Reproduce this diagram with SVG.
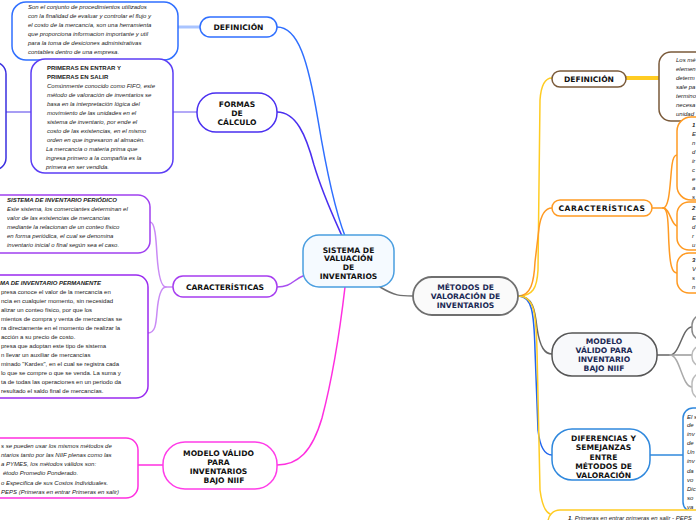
<svg xmlns="http://www.w3.org/2000/svg" width="696" height="520" viewBox="0 0 696 520">
<style>
.n{font-family:"DejaVu Sans",Verdana,sans-serif;font-weight:bold;font-size:7.6px;fill:#111;text-anchor:middle}
.nv{fill:#1c2a55}
.t{font-family:"Liberation Sans",Arial,sans-serif;font-size:6px;font-style:italic;fill:#222}
.u{font-style:normal}
.b{font-weight:bold}
.c{fill:none;stroke-width:1.5;stroke-linecap:round}
.box{fill:#fff;stroke-width:1.5}
</style>
<rect width="696" height="520" fill="#fff"/>
<g id="connectors">
  <path class="c" stroke="#2f6fff" d="M277 27 C298 27 308 60 318 120 C328 180 338 218 345 236"/>
  <path class="c" stroke="#4a2ff0" d="M277 112 C296 112 306 135 314 165 C323 195 334 218 342 236"/>
  <path class="c" stroke="#a84ff0" d="M305 275 C292 280 292 287 277 287"/>
  <path class="c" stroke="#ff2fe0" d="M345 287 C340 330 332 380 322 418 C312 452 298 465 277 465"/>
  <path class="c" stroke="#6f6f6f" d="M380 287 C395 296 400 296 413 296"/>
  <path stroke="#a9c4ff" stroke-width="3" fill="none" d="M178 27 L200 27"/>
  <path stroke="#9a8cf5" stroke-width="1.5" fill="none" d="M173 112 L197 112"/>
  <path stroke="#8a7cf0" stroke-width="1.5" fill="none" d="M6 112 L31 112"/>
  <path class="c" stroke="#c98af5" d="M173 287 L166 287 C160 287 158 270 157 255 C156 238 155 222 150 222"/>
  <path class="c" stroke="#c98af5" d="M166 287 C160 287 158 300 157 312 C156 325 155 333 148 333"/>
  <path stroke="#ff2fe0" stroke-width="1.5" fill="none" d="M138 465 L163 465"/>
  <path class="c" stroke="#ffcc22" d="M518 296 C533 296 537 288 538 270 L540 100 C541 86 545 78 552 78"/>
  <path class="c" stroke="#ff9a22" d="M518 296 C531 296 534 282 535 262 L539 228 C541 214 545 208 552 208"/>
  <path class="c" stroke="#666" d="M518 296 C533 296 535 310 537 328 C540 348 545 354 552 354"/>
  <path class="c" stroke="#2266ee" d="M518 296 C532 296 534 312 535 350 L538 430 C540 448 545 455 552 455"/>
  <path class="c" stroke="#ffcc22" d="M518 296 C534 296 536 312 537 350 L540 490 C542 505 545 512 550 514"/>
  <path stroke="#ffcc22" stroke-width="4" fill="none" d="M626 78 L660 78"/>
  <path class="c" stroke="#ff9a22" d="M652 208 L663 208 C670 208 670 180 672 165 C673 157 675 155 677 155"/>
  <path class="c" stroke="#ff9a22" d="M663 208 C670 208 671 225 677 226"/>
  <path class="c" stroke="#ff9a22" d="M663 208 C669 208 668 230 669 245 C670 265 672 273 677 273"/>
  <path class="c" stroke="#666" d="M657 355 L670 355 C680 355 682 327 692 327"/>
  <path class="c" stroke="#999" d="M670 355 L692 355"/>
  <path class="c" stroke="#aaa" d="M670 355 C680 355 682 387 692 387"/>
  <path stroke="#2f88dd" stroke-width="1.5" fill="none" d="M650 455 L683 455"/>
</g>
<g id="central">
  <rect x="303" y="235" width="91" height="52" rx="16" fill="#f5faff" stroke="#4a9ee0" stroke-width="1.5"/>
  <text class="n" x="348.5" y="252.5">SISTEMA DE</text>
  <text class="n" x="348.5" y="261.2">VALUACIÓN</text>
  <text class="n" x="348.5" y="270">DE</text>
  <text class="n" x="348.5" y="278.7">INVENTARIOS</text>
</g>
<g id="def-left">
  <rect class="box" x="200" y="17" width="77" height="20" rx="10" stroke="#2f6fff"/>
  <text class="n" x="238.5" y="30.2">DEFINICIÓN</text>
</g>
<g id="def-left-text">
  <rect class="box" x="12" y="2" width="166" height="58" rx="14" stroke="#2f6fff"/>
  <text class="t" x="28" y="9">Son el conjunto de procedimientos utilizados</text>
  <text class="t" x="28" y="18">con la finalidad de evaluar y controlar el flujo y</text>
  <text class="t" x="28" y="27">el costo de la mercancía, son una herramienta</text>
  <text class="t" x="28" y="36">que proporciona informacion importante y util</text>
  <text class="t" x="28" y="45">para la toma de desiciones administrativas</text>
  <text class="t" x="28" y="54">contables dentro de una empresa.</text>
</g>
<g id="formas">
  <rect class="box" x="197" y="93" width="80" height="39" rx="19" stroke="#4a2ff0"/>
  <text class="n" x="237" y="106.7">FORMAS</text>
  <text class="n" x="237" y="115.7">DE</text>
  <text class="n" x="237" y="124.7">CÁLCULO</text>
</g>
<g id="far-left-box">
  <rect class="box" x="-30" y="62" width="36" height="108" rx="12" stroke="#3a2fe0"/>
</g>
<g id="fifo">
  <rect class="box" x="31" y="59" width="142" height="114" rx="14" stroke="#5b3df5"/>
  <text class="t u b" x="47" y="70">PRIMERAS EN ENTRAR Y</text>
  <text class="t u b" x="47" y="79">PRIMERAS EN SALIR</text>
  <text class="t" x="47" y="88">Comúnmente conocido como FIFO, este</text>
  <text class="t" x="47" y="97">método de valoración de inventarios se</text>
  <text class="t" x="47" y="106">basa en la interpretación lógica del</text>
  <text class="t" x="47" y="115">movimiento de las unidades en el</text>
  <text class="t" x="47" y="124">sistema de inventario, por ende el</text>
  <text class="t" x="47" y="133">costo de las existencias, en el mismo</text>
  <text class="t" x="47" y="142">orden en que ingresaron al almacén.</text>
  <text class="t" x="46" y="151">La mercancía o materia prima que</text>
  <text class="t" x="46" y="160">ingresa primero a la compañía es la</text>
  <text class="t" x="46" y="169">primera en ser vendida.</text>
</g>
<g id="car-left">
  <rect class="box" x="173" y="276" width="104" height="21" rx="10" stroke="#a63df0"/>
  <text class="n" x="225" y="289.7">CARACTERÍSTICAS</text>
</g>
<g id="periodico">
  <rect class="box" x="-20" y="195" width="170" height="58" rx="12" stroke="#a040f0"/>
  <text class="t b" x="7" y="202">SISTEMA DE INVENTARIO PERIÓDICO</text>
  <text class="t" x="7" y="211">Este sistema, los comerciantes determinan el</text>
  <text class="t" x="7" y="220">valor de las existencias de mercancías</text>
  <text class="t" x="7" y="229">mediante la relacionan de un conteo físico</text>
  <text class="t" x="7" y="238">en forma periódica, el cual se denomina</text>
  <text class="t" x="7" y="247">inventario inicial o final según sea el caso.</text>
</g>
<g id="permanente">
  <rect class="box" x="-20" y="275" width="168" height="123" rx="12" stroke="#9a2af0"/>
  <text class="t b" x="0" y="285">MA DE INVENTARIO PERMANENTE</text>
  <text class="t u" x="1" y="294">presa conoce el valor de la mercancía en</text>
  <text class="t u" x="1" y="303">ncia en cualquier momento, sin necesidad</text>
  <text class="t u" x="1" y="312">alizar un conteo físico, por que los</text>
  <text class="t u" x="1" y="321">mientos de compra y venta de mercancías se</text>
  <text class="t u" x="1" y="330">ra directamente en el momento de realizar la</text>
  <text class="t u" x="1" y="339">acción a su precio de costo.</text>
  <text class="t u" x="1" y="348">presa que adoptan este tipo de sistema</text>
  <text class="t u" x="1" y="357">n llevar un auxiliar de mercancías</text>
  <text class="t u" x="1" y="366">minado "Kardex", en el cual se registra cada</text>
  <text class="t u" x="1" y="375">lo que se compre o que se venda. La suma y</text>
  <text class="t u" x="1" y="384">ta de todas las operaciones en un periodo da</text>
  <text class="t u" x="1" y="393">resultado el saldo final de mercancías.</text>
</g>
<g id="modelo-left">
  <rect class="box" x="163" y="442" width="114" height="47" rx="22" stroke="#ff3de8"/>
  <text class="n" x="218.5" y="455.7">MODELO VÁLIDO</text>
  <text class="n" x="218.5" y="464.7">PARA</text>
  <text class="n" x="218.5" y="473.7">INVENTARIOS</text>
  <text class="n" x="224" y="482.7">BAJO NIIF</text>
</g>
<g id="modelo-left-text">
  <rect class="box" x="-20" y="438" width="158" height="60" rx="12" stroke="#ff2fe0"/>
  <text class="t" x="1" y="448">s se pueden usar los mismos métodos de</text>
  <text class="t" x="1" y="457">ntarios tanto por las NIIF plenas como las</text>
  <text class="t" x="1" y="466">a PYMES, los métodos válidos son:</text>
  <text class="t" x="3" y="475">étodo Promedio Ponderado.</text>
  <text class="t" x="1" y="485">o Especifica de sus Costos Individuales.</text>
  <text class="t" x="1" y="494">PEPS (Primeras en entrar Primeras en salir)</text>
</g>
<g id="metodos">
  <rect x="413" y="277" width="105" height="38" rx="19" fill="#fafafa" stroke="#6f6f6f" stroke-width="1.8"/>
  <text class="n nv" x="465.5" y="289.7">MÉTODOS DE</text>
  <text class="n nv" x="465.5" y="298.7">VALORACIÓN DE</text>
  <text class="n nv" x="465.5" y="307.7">INVENTARIOS</text>
</g>
<g id="def-right">
  <rect class="box" x="552" y="71" width="74" height="16" rx="8" stroke="#7a5a3a"/>
  <text class="n" x="589" y="81.7">DEFINICIÓN</text>
</g>
<g id="def-right-text">
  <rect class="box" x="659" y="52" width="60" height="69" rx="12" stroke="#7a5a3a"/>
  <text class="t" x="676" y="62">Los mé</text>
  <text class="t" x="676" y="71">elemen</text>
  <text class="t" x="676" y="80">determ</text>
  <text class="t" x="676" y="89">sale pa</text>
  <text class="t" x="676" y="98">termino</text>
  <text class="t" x="676" y="107">necesa</text>
  <text class="t" x="676" y="116">unidad</text>
</g>
<g id="car-right">
  <rect class="box" x="552" y="200" width="100" height="16" rx="8" stroke="#ff9a22"/>
  <text class="n" x="602" y="211" letter-spacing="0.6">CARACTERÍSTICAS</text>
</g>
<g id="car-box-1">
  <rect class="box" x="677" y="117" width="40" height="83" rx="14" stroke="#ff9a22"/>
  <text class="t b" x="692" y="127">1</text>
  <text class="t" x="692" y="136">E</text>
  <text class="t" x="692" y="145">n</text>
  <text class="t" x="692" y="154">d</text>
  <text class="t" x="692" y="163">ir</text>
  <text class="t" x="692" y="172">c</text>
  <text class="t" x="692" y="181">e</text>
  <text class="t" x="692" y="190">a</text>
  <text class="t" x="692" y="199">s</text>
</g>
<g id="car-box-2">
  <rect class="box" x="677" y="202" width="40" height="48" rx="12" stroke="#ff9a22"/>
  <text class="t b" x="692" y="210">2</text>
  <text class="t" x="692" y="220">E</text>
  <text class="t" x="692" y="229">d</text>
  <text class="t" x="692" y="238">r</text>
  <text class="t" x="692" y="247">u</text>
</g>
<g id="car-box-3">
  <rect class="box" x="677" y="253" width="40" height="40" rx="12" stroke="#ff9a22"/>
  <text class="t b" x="692" y="262">3</text>
  <text class="t" x="692" y="271">V</text>
  <text class="t" x="692" y="280">s</text>
  <text class="t" x="692" y="289">n</text>
</g>
<g id="modelo-right">
  <rect x="552" y="333" width="105" height="43" rx="20" fill="#f8f9fb" stroke="#555" stroke-width="1.5"/>
  <text class="n nv" x="604" y="343.7">MODELO</text>
  <text class="n nv" x="604" y="352.7">VÁLIDO PARA</text>
  <text class="n nv" x="604" y="361.7">INVENTARIO</text>
  <text class="n nv" x="604" y="370.7">BAJO NIIF</text>
</g>
<g id="modelo-right-sub1"><rect class="box" x="692" y="315" width="30" height="25" rx="10" stroke="#888"/></g>
<g id="modelo-right-sub2"><rect class="box" x="692" y="346" width="30" height="20" rx="9" stroke="#bbb"/></g>
<g id="modelo-right-sub3"><rect class="box" x="692" y="373" width="30" height="26" rx="10" stroke="#bbb"/></g>
<g id="diferencias">
  <rect class="box" x="552" y="429" width="98" height="51" rx="20" stroke="#2f88dd"/>
  <text class="n" x="603.5" y="440.7">DIFERENCIAS Y</text>
  <text class="n" x="603.5" y="449.7">SEMEJANZAS</text>
  <text class="n" x="603.5" y="459.7">ENTRE</text>
  <text class="n" x="603.5" y="468.7">MÉTODOS DE</text>
  <text class="n" x="603.5" y="477.7">VALORACIÓN</text>
</g>
<g id="diferencias-text">
  <rect class="box" x="683" y="408" width="40" height="104" rx="10" stroke="#2f88dd"/>
  <text class="t" x="687" y="419">El s</text>
  <text class="t" x="687" y="427">de</text>
  <text class="t" x="687" y="436">inv</text>
  <text class="t" x="687" y="445">de</text>
  <text class="t" x="687" y="454">Un</text>
  <text class="t" x="687" y="463">inv</text>
  <text class="t" x="687" y="473">da</text>
  <text class="t" x="687" y="482">vo</text>
  <text class="t" x="687" y="491">Dic</text>
  <text class="t" x="687" y="500">so</text>
  <text class="t" x="687" y="509">va</text>
</g>
<g id="peps-box">
  <rect class="box" x="548" y="510" width="180" height="30" rx="12" stroke="#ffcc22"/>
  <text class="t" x="568" y="519.5"><tspan class="b">1</tspan>. Primeras en entrar primeras en salir - PEPS</text>
</g>
</svg>
